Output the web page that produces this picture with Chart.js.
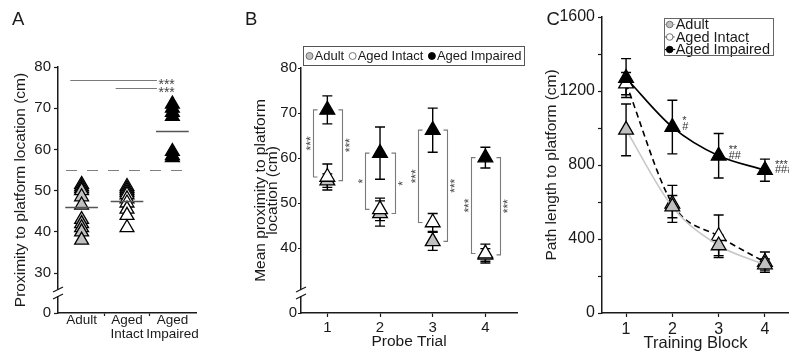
<!DOCTYPE html>
<html><head><meta charset="utf-8">
<script src="https://cdn.jsdelivr.net/npm/chart.js@4.4.1/dist/chart.umd.min.js"></script>
<style>
html,body{margin:0;padding:0;background:#fff;}
#wrap{position:relative;width:789px;height:356px;overflow:hidden;background:#fff;}
canvas{position:absolute;top:0;}
</style></head><body>
<div id="wrap">
<canvas id="cA" width="235" height="356" style="left:0px"></canvas>
<canvas id="cB" width="300" height="356" style="left:235px"></canvas>
<canvas id="cC" width="254" height="356" style="left:535px"></canvas>
</div>
<script>
// ================= DATA =================
const groups = ['Adult', 'Aged Intact', 'Aged Impaired'];
const groupTickLabels = ['Adult', ['Aged', 'Intact'], ['Aged', 'Impaired']];

// Panel A: individual animals (proximity, cm)
const aAdult    = [51.5, 51, 50.5, 50, 48.5, 46.5, 43, 42, 41, 40, 38];
const aIntact   = [51, 50.5, 50, 49.5, 49, 48, 47, 45.5, 44, 41];
const aImpaired = [71, 70, 69, 68, 59.5, 58.5, 58];
const aMeans    = [46, 47.5, 64.5];
const aCriterion = 55;
const aYTicks   = [30, 40, 50, 60, 70, 80];
const aBreakValue = 20.3;           // axis break, labelled "0"
const aCompFrom = [1, 2];           // group compared with Aged Impaired
const aCompTo   = [3, 3];
const aCompY    = [76.8, 74.9];
const aCompSig  = ['***', '***'];

// Panel B: probe trials (mean +/- SEM)
const probeTrials  = [1, 2, 3, 4];
const bAdult       = [55, 47.7, 41.5, 38.5];
const bAdultSem    = [1.5, 2.8, 2, 1.4];
const bIntact      = [55.8, 48.6, 45.7, 38.8];
const bIntactSem   = [2.9, 2.5, 2, 2.1];
const bImpaired    = [70.7, 61.1, 66.2, 60.1];
const bImpairedSem = [3.1, 5.8, 4.9, 2.3];
const bYTicks      = [40, 50, 60, 70, 80];
const bBreakValue  = 25.6;          // axis break, labelled "0"
const bSigVsIntact = ['***', '*', '***', '***'];
const bSigVsAdult  = ['***', '*', '***', '***'];

// Panel C: training blocks (mean +/- SEM)
const trainingBlocks = [1, 2, 3, 4];
const cAdult       = [990, 575, 365, 262];
const cAdultSem    = [140, 60, 55, 30];
const cIntact      = [1240, 590, 415, 275];
const cIntactSem   = [60, 100, 115, 55];
const cImpaired    = [1270, 1005, 850, 772];
const cImpairedSem = [105, 145, 120, 60];
const cSigStar     = ['', '*', '**', '***'];
const cSigHash     = ['', '#', '##', '###'];

// ================= STYLE =================
const FONT = "'Liberation Sans', Arial, Helvetica, sans-serif";
const INK = '#1a1a1a';
const GRAYFILL = '#c0c0c0';
const groupFill = [GRAYFILL, '#ffffff', '#000000'];
Chart.defaults.font.family = FONT;
Chart.defaults.color = INK;

function pts(xs, ys) { return ys.map((v, i) => ({x: Array.isArray(xs) ? xs[i] : xs, y: v})); }

function triStyle(fill, r) {
  return {pointStyle: 'triangle', pointRadius: r, pointHoverRadius: r,
    pointBackgroundColor: fill, pointBorderColor: '#000', pointBorderWidth: 1.3,
    showLine: false, clip: false};
}

function drawLetter(chart, txt, x) {
  const ctx = chart.ctx;
  ctx.save(); ctx.fillStyle = INK; ctx.font = '18.5px ' + FONT;
  ctx.textBaseline = 'alphabetic'; ctx.textAlign = 'left';
  ctx.fillText(txt, x, 25); ctx.restore();
}

function drawAxisBreak(chart) {
  const {ctx, chartArea: ca} = chart;
  const xb = ca.left, yb = ca.bottom - 20;
  ctx.save();
  ctx.fillStyle = '#fff'; ctx.fillRect(xb - 2, yb - 3, 4, 6);
  ctx.strokeStyle = INK; ctx.lineWidth = 1.3;
  ctx.beginPath();
  ctx.moveTo(xb - 5, yb - 1); ctx.lineTo(xb + 5, yb - 6);
  ctx.moveTo(xb - 5, yb + 6); ctx.lineTo(xb + 5, yb + 1);
  ctx.stroke(); ctx.restore();
}

const errorBarPlugin = {
  id: 'errbars',
  beforeDatasetsDraw(chart) {
    const ctx = chart.ctx, ys = chart.scales.y;
    chart.data.datasets.forEach((ds, di) => {
      if (!ds.sem) return;
      const meta = chart.getDatasetMeta(di);
      ctx.save(); ctx.strokeStyle = '#000'; ctx.lineWidth = 1.4;
      meta.data.forEach((pt, i) => {
        const v = ds.data[i].y, e = ds.sem[i];
        const y1 = ys.getPixelForValue(v + e), y2 = ys.getPixelForValue(v - e);
        ctx.beginPath();
        ctx.moveTo(pt.x, y1); ctx.lineTo(pt.x, y2);
        ctx.moveTo(pt.x - 5, y1); ctx.lineTo(pt.x + 5, y1);
        ctx.moveTo(pt.x - 5, y2); ctx.lineTo(pt.x + 5, y2);
        ctx.stroke();
      });
      ctx.restore();
    });
  }
};

function axisCommon() {
  return {border: {color: INK, width: 1.5}};
}

// ================= PANEL A =================
const panelAPlugin = {
  id: 'panelA',
  beforeDatasetsDraw(chart) {
    const {ctx, chartArea: ca, scales: {y}} = chart;
    const yy = Math.round(y.getPixelForValue(aCriterion)) + 0.5;
    ctx.save(); ctx.strokeStyle = '#808080'; ctx.lineWidth = 1.2;
    ctx.setLineDash([11, 10]); ctx.lineDashOffset = 13;
    ctx.beginPath(); ctx.moveTo(ca.left, yy); ctx.lineTo(ca.right - 6, yy); ctx.stroke();
    ctx.restore();
  },
  afterDatasetsDraw(chart) {
    const {ctx, scales: {x, y}} = chart;
    ctx.save(); ctx.strokeStyle = '#555'; ctx.lineWidth = 1.3;
    aMeans.forEach((m, i) => {
      const yy = Math.round(y.getPixelForValue(m)) + 0.5;
      ctx.beginPath();
      ctx.moveTo(x.getPixelForValue(i + 1 - 0.36), yy);
      ctx.lineTo(x.getPixelForValue(i + 1 + 0.36), yy);
      ctx.stroke();
    });
    ctx.strokeStyle = '#7a7a7a'; ctx.lineWidth = 1.1;
    ctx.fillStyle = '#444'; ctx.font = '14px ' + FONT; ctx.textAlign = 'left';
    aCompY.forEach((v, i) => {
      const yy = Math.round(y.getPixelForValue(v)) + 0.5;
      const x1 = x.getPixelForValue(aCompFrom[i] - 0.25);
      const x2 = x.getPixelForValue(aCompTo[i] - 0.34);
      ctx.beginPath(); ctx.moveTo(x1, yy); ctx.lineTo(x2, yy); ctx.stroke();
      ctx.fillText(aCompSig[i], x2 + 1.5, yy + 8);
    });
    ctx.restore();
  },
  afterDraw(chart) { drawAxisBreak(chart); drawLetter(chart, 'A', 12); }
};

new Chart(document.getElementById('cA'), {
  type: 'scatter',
  data: {datasets: [
    Object.assign({label: groups[2], data: pts(3, aImpaired), order: 0}, triStyle(groupFill[2], 8)),
    Object.assign({label: groups[1], data: pts(2, aIntact), order: 1}, triStyle(groupFill[1], 8)),
    Object.assign({label: groups[0], data: pts(1, aAdult), order: 2}, triStyle(groupFill[0], 8))
  ]},
  options: {
    responsive: false, animation: false, events: [], devicePixelRatio: 1,
    layout: {autoPadding: false, padding: {top: 67, right: 39, bottom: 0, left: 0}},
    plugins: {legend: {display: false}, tooltip: {enabled: false}},
    scales: {
      x: Object.assign(axisCommon(), {
        type: 'linear', min: 0.48, max: 3.52,
        afterFit(s) { s.height = 43; },
        afterBuildTicks(s) { s.ticks = [1, 1.5, 2, 2.5, 3].map(v => ({value: v})); },
        ticks: {autoSkip: false, maxRotation: 0, padding: -3, color: INK,
          font: {size: 13.5, lineHeight: 1.05},
          callback: (v) => Number.isInteger(v) ? groupTickLabels[v - 1] : ''},
        grid: {drawOnChartArea: false, tickLength: 3, tickWidth: 1.2,
          tickColor: (c) => (c.tick && Number.isInteger(c.tick.value)) ? 'rgba(0,0,0,0)' : INK}
      }),
      y: Object.assign(axisCommon(), {
        min: aBreakValue, max: 80,
        afterFit(s) { s.width = 58; },
        afterBuildTicks(s) { s.ticks = [aBreakValue].concat(aYTicks).map(v => ({value: v})); },
        ticks: {autoSkip: false, padding: 3, color: INK, font: {size: 15},
          callback: (v) => v === aBreakValue ? '0' : String(v)},
        grid: {drawOnChartArea: false, tickLength: 4, tickWidth: 1.2, tickColor: INK},
        title: {display: true, text: 'Proximity to platform location (cm)', color: INK,
          font: {size: 15.5, lineHeight: 1.2}, padding: {top: 11, bottom: 0}}
      })
    }
  },
  plugins: [panelAPlugin]
});

// ================= PANEL B =================
const panelBPlugin = {
  id: 'panelB',
  afterDatasetsDraw(chart) {
    const {ctx, scales: {x, y}} = chart;
    ctx.save(); ctx.strokeStyle = '#7a7a7a'; ctx.lineWidth = 1.1;
    ctx.fillStyle = '#444'; const fs = 12; ctx.font = fs + 'px ' + FONT;
    ctx.textAlign = 'center'; ctx.textBaseline = 'alphabetic';
    probeTrials.forEach((t, i) => {
      const xL = Math.round(x.getPixelForValue(t - 0.28)) + 0.5;
      const xR = Math.round(x.getPixelForValue(t + 0.28)) + 0.5;
      const yTop = y.getPixelForValue(bImpaired[i]);
      const yI = y.getPixelForValue(bIntact[i]);
      const yA = y.getPixelForValue(bAdult[i]);
      ctx.beginPath();
      ctx.moveTo(xL + 4, yTop); ctx.lineTo(xL, yTop); ctx.lineTo(xL, yI); ctx.lineTo(xL + 4, yI);
      ctx.moveTo(xR - 4, yTop); ctx.lineTo(xR, yTop); ctx.lineTo(xR, yA); ctx.lineTo(xR - 4, yA);
      ctx.stroke();
      [[xL - 5, (yTop + yI) / 2, bSigVsIntact[i]], [xR + 5, (yTop + yA) / 2, bSigVsAdult[i]]].forEach(([sx, sy, s]) => {
        ctx.save(); ctx.translate(sx, sy); ctx.rotate(-Math.PI / 2);
        ctx.fillText(s, 0, 0.58 * fs); ctx.restore();
      });
    });
    ctx.restore();
  },
  afterDraw(chart) {
    const {ctx, chartArea: ca} = chart;
    drawAxisBreak(chart);
    drawLetter(chart, 'B', 10);
    ctx.save(); ctx.font = '13px ' + FONT; ctx.textBaseline = 'middle'; ctx.textAlign = 'left';
    const top = ca.top - 22, h = 19, left = ca.left + 2, cy = top + h / 2 + 0.5;
    let xx = left + 3;
    groups.forEach((g, i) => {
      ctx.beginPath(); ctx.arc(xx + 3.5, cy, 3.5, 0, Math.PI * 2);
      ctx.fillStyle = groupFill[i]; ctx.fill();
      ctx.strokeStyle = i === 2 ? '#000' : '#666'; ctx.lineWidth = 0.9; ctx.stroke();
      xx += 8.5;
      ctx.fillStyle = INK; ctx.fillText(g, xx, cy);
      xx += ctx.measureText(g).width + 5;
    });
    const right = xx - 5 + 3;
    ctx.strokeStyle = '#555'; ctx.lineWidth = 1;
    ctx.strokeRect(Math.round(left) + 0.5, Math.round(top) + 0.5, Math.round(right - left), h);
    ctx.restore();
  }
};

new Chart(document.getElementById('cB'), {
  type: 'scatter',
  data: {datasets: [
    Object.assign({label: groups[2], data: pts(probeTrials, bImpaired), sem: bImpairedSem, order: 0}, triStyle(groupFill[2], 8.5)),
    Object.assign({label: groups[1], data: pts(probeTrials, bIntact), sem: bIntactSem, order: 1}, triStyle(groupFill[1], 8.5)),
    Object.assign({label: groups[0], data: pts(probeTrials, bAdult), sem: bAdultSem, order: 2}, triStyle(groupFill[0], 8.5))
  ]},
  options: {
    responsive: false, animation: false, events: [], devicePixelRatio: 1,
    layout: {autoPadding: false, padding: {top: 68, right: 18, bottom: 0, left: 0}},
    plugins: {legend: {display: false}, tooltip: {enabled: false}},
    scales: {
      x: Object.assign(axisCommon(), {
        type: 'linear', min: 0.5, max: 4.6,
        afterFit(s) { s.height = 43; },
        afterBuildTicks(s) { s.ticks = probeTrials.map(v => ({value: v})); },
        ticks: {autoSkip: false, maxRotation: 0, padding: 2, color: INK, font: {size: 15}},
        grid: {drawOnChartArea: false, tickLength: 4, tickWidth: 1.2, tickColor: INK},
        title: {display: true, text: 'Probe Trial', color: INK, font: {size: 15.5, lineHeight: 1.2},
          padding: {top: 0, bottom: 5}}
      }),
      y: Object.assign(axisCommon(), {
        min: bBreakValue, max: 80,
        afterFit(s) { s.width = 66; },
        afterBuildTicks(s) { s.ticks = [bBreakValue].concat(bYTicks).map(v => ({value: v})); },
        ticks: {autoSkip: false, padding: 1, color: INK, font: {size: 15},
          callback: (v) => v === bBreakValue ? '0' : String(v)},
        grid: {drawOnChartArea: false, tickLength: 3, tickWidth: 1.2, tickColor: INK},
        title: {display: true, text: ['Mean proximity to platform', 'location (cm)'], color: INK,
          font: {size: 15.5, lineHeight: 0.8}, padding: {top: 19.5, bottom: 0}}
      })
    }
  },
  plugins: [errorBarPlugin, panelBPlugin]
});

// ================= PANEL C =================
const cLegendStyles = [
  {line: '#b8b8b8', dash: [], fill: GRAYFILL, stroke: '#666'},
  {line: '#555', dash: [2, 2], fill: '#fff', stroke: '#666'},
  {line: '#000', dash: [], fill: '#000', stroke: '#000'}
];
const panelCPlugin = {
  id: 'panelC',
  afterDatasetsDraw(chart) {
    const {ctx, scales: {x, y}} = chart;
    ctx.save(); ctx.fillStyle = '#333'; ctx.font = '11px ' + FONT; ctx.textAlign = 'left';
    trainingBlocks.forEach((b, i) => {
      const px = x.getPixelForValue(b), py = y.getPixelForValue(cImpaired[i]);
      if (cSigStar[i]) ctx.fillText(cSigStar[i], px + 10, py - 9 + 6.4);
      if (cSigHash[i]) ctx.fillText(cSigHash[i], px + 10, py - 1 + 3.8);
    });
    ctx.restore();
  },
  afterDraw(chart) {
    const {ctx, chartArea: ca} = chart;
    drawLetter(chart, 'C', 11.5);
    ctx.save(); ctx.font = '14.5px ' + FONT; ctx.textBaseline = 'middle'; ctx.textAlign = 'left';
    let maxW = 0; groups.forEach(g => { maxW = Math.max(maxW, ctx.measureText(g).width); });
    const w = 12 + maxW + 3, h = 37;
    const left = ca.right - 16 - w, top = ca.top + 1;
    ctx.fillStyle = '#fff'; ctx.fillRect(left, top, w, h);
    groups.forEach((g, i) => {
      const cy = top + 6.5 + i * 12.5, st = cLegendStyles[i];
      ctx.strokeStyle = st.line; ctx.lineWidth = 1.2; ctx.setLineDash(st.dash);
      ctx.beginPath(); ctx.moveTo(left + 1, cy); ctx.lineTo(left + 11.5, cy); ctx.stroke();
      ctx.setLineDash([]);
      ctx.beginPath(); ctx.arc(left + 6, cy, 3.3, 0, Math.PI * 2);
      ctx.fillStyle = st.fill; ctx.fill(); ctx.strokeStyle = st.stroke; ctx.lineWidth = 0.9; ctx.stroke();
      ctx.fillStyle = INK; ctx.fillText(g, left + 12, cy + 0.5);
    });
    ctx.strokeStyle = '#666'; ctx.lineWidth = 1;
    ctx.strokeRect(Math.round(left) + 0.5, Math.round(top) + 0.5, Math.round(w), h);
    ctx.restore();
  }
};

function lineStyle(lineColor, dash, fill) {
  return {showLine: true, borderColor: lineColor, borderWidth: 1.6, borderDash: dash,
    cubicInterpolationMode: 'monotone', pointStyle: 'triangle', pointRadius: 8.5, pointHoverRadius: 8.5,
    pointBackgroundColor: fill, pointBorderColor: '#000', pointBorderWidth: 1.3, clip: false};
}

new Chart(document.getElementById('cC'), {
  type: 'scatter',
  data: {datasets: [
    Object.assign({label: groups[2], data: pts(trainingBlocks, cImpaired), sem: cImpairedSem, order: 0}, lineStyle('#000', [], groupFill[2])),
    Object.assign({label: groups[0], data: pts(trainingBlocks, cAdult), sem: cAdultSem, order: 1}, lineStyle('#c8c8c8', [], groupFill[0])),
    Object.assign({label: groups[1], data: pts(trainingBlocks, cIntact), sem: cIntactSem, order: 2}, lineStyle('#000', [6, 4], groupFill[1]))
  ]},
  options: {
    responsive: false, animation: false, events: [], devicePixelRatio: 1,
    layout: {autoPadding: false, padding: {top: 17, right: 0, bottom: 0, left: 0}},
    plugins: {legend: {display: false}, tooltip: {enabled: false}},
    scales: {
      x: Object.assign(axisCommon(), {
        type: 'linear', min: 0.48, max: 4.52,
        afterFit(s) { s.height = 43; },
        afterBuildTicks(s) { s.ticks = trainingBlocks.map(v => ({value: v})); },
        ticks: {autoSkip: false, maxRotation: 0, padding: 3, color: INK, font: {size: 16}},
        grid: {drawOnChartArea: false, tickLength: 4, tickWidth: 1.2, tickColor: INK},
        title: {display: true, text: 'Training Block', color: INK, font: {size: 16.5, lineHeight: 1.2},
          padding: {top: 0, bottom: 3}}
      }),
      y: Object.assign(axisCommon(), {
        min: 0, max: 1600,
        afterFit(s) { s.width = 67; },
        ticks: {autoSkip: false, stepSize: 200, padding: 3, color: INK, font: {size: 16},
          callback: (v) => v % 400 === 0 ? String(v) : ''},
        grid: {drawOnChartArea: false, tickLength: 4, tickWidth: 1.2, tickColor: INK},
        title: {display: true, text: 'Path length to platform (cm)', color: INK,
          font: {size: 15.5, lineHeight: 1.2}, padding: {top: 7, bottom: 0}}
      })
    }
  },
  plugins: [errorBarPlugin, panelCPlugin]
});
</script>
</body></html>
